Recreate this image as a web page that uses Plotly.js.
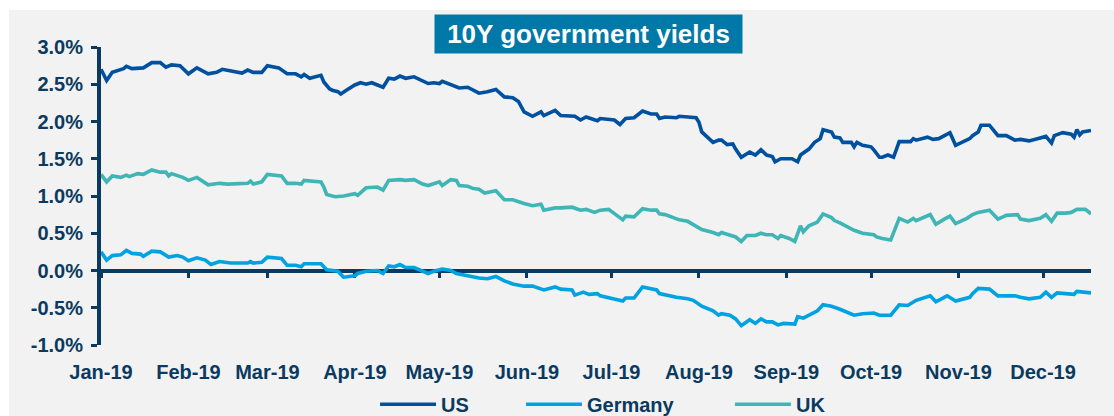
<!DOCTYPE html>
<html>
<head>
<meta charset="utf-8">
<script src="https://cdn.plot.ly/plotly-3.0.1.min.js"></script>
<style>
  html, body { margin: 0; padding: 0; background: #ffffff; width: 1114px; height: 416px; overflow: hidden; }
  #chart { position: absolute; left: 9px; top: 10px; width: 1105px; height: 406px; }
</style>
</head>
<body>
<div id="chart"></div>
<script>
// ---- Data ----
const seriesNames = ['US', 'Germany', 'UK'];
const monthTickFormat = '%b-%y';

const usDates = ['2019-01-01','2019-01-03','2019-01-05','2019-01-09','2019-01-10','2019-01-12','2019-01-16','2019-01-19','2019-01-22','2019-01-24','2019-01-26','2019-01-29',
'2019-02-01','2019-02-04','2019-02-08','2019-02-11','2019-02-13','2019-02-17','2019-02-20','2019-02-22','2019-02-24','2019-02-27',
'2019-03-01','2019-03-05','2019-03-08','2019-03-11','2019-03-13','2019-03-14','2019-03-16','2019-03-20','2019-03-21','2019-03-23','2019-03-24','2019-03-26','2019-03-27','2019-03-29',
'2019-04-01','2019-04-03','2019-04-05','2019-04-07','2019-04-09','2019-04-11','2019-04-13','2019-04-15','2019-04-17','2019-04-19','2019-04-22','2019-04-25','2019-04-27','2019-04-29',
'2019-05-01','2019-05-02','2019-05-05','2019-05-08','2019-05-11','2019-05-15','2019-05-18','2019-05-21','2019-05-24','2019-05-27','2019-05-29','2019-05-31',
'2019-06-03','2019-06-06','2019-06-07','2019-06-11','2019-06-13','2019-06-18','2019-06-20','2019-06-22','2019-06-26','2019-06-27',
'2019-07-02','2019-07-04','2019-07-06','2019-07-09','2019-07-12','2019-07-15','2019-07-17','2019-07-18','2019-07-20','2019-07-24','2019-07-25','2019-07-28','2019-07-31',
'2019-08-01','2019-08-02','2019-08-06','2019-08-08','2019-08-09','2019-08-11','2019-08-13','2019-08-14','2019-08-16','2019-08-19','2019-08-21','2019-08-23','2019-08-25','2019-08-27','2019-08-28','2019-08-30',
'2019-09-03','2019-09-05','2019-09-06','2019-09-09','2019-09-11','2019-09-13','2019-09-14','2019-09-17','2019-09-18','2019-09-20','2019-09-21','2019-09-24','2019-09-25','2019-09-26','2019-09-28',
'2019-10-01','2019-10-02','2019-10-04','2019-10-05','2019-10-07','2019-10-09','2019-10-11','2019-10-15','2019-10-16','2019-10-17','2019-10-21','2019-10-23','2019-10-25','2019-10-29','2019-10-31',
'2019-11-05','2019-11-06','2019-11-08','2019-11-09','2019-11-12','2019-11-15','2019-11-18','2019-11-21','2019-11-23','2019-11-26','2019-11-29',
'2019-12-02','2019-12-04','2019-12-05','2019-12-08','2019-12-11','2019-12-12','2019-12-13','2019-12-14','2019-12-15','2019-12-18'];
const usYields = [2.70,2.55,2.66,2.71,2.74,2.71,2.72,2.79,2.79,2.73,2.76,2.75,
2.64,2.72,2.64,2.66,2.70,2.67,2.65,2.69,2.66,2.66,
2.75,2.72,2.64,2.64,2.60,2.63,2.58,2.62,2.53,2.44,2.42,2.40,2.37,2.42,
2.49,2.52,2.50,2.52,2.49,2.46,2.58,2.57,2.61,2.58,2.60,2.55,2.51,2.52,
2.51,2.54,2.49,2.45,2.46,2.38,2.40,2.43,2.33,2.32,2.27,2.13,
2.07,2.13,2.08,2.15,2.08,2.07,2.02,2.06,2.01,2.04,
2.02,1.96,2.04,2.05,2.14,2.10,2.10,2.04,2.06,2.05,2.07,2.06,2.05,
1.99,1.86,1.72,1.75,1.75,1.69,1.70,1.63,1.52,1.59,1.55,1.62,1.55,1.53,1.46,1.50,
1.50,1.46,1.55,1.63,1.72,1.77,1.89,1.86,1.79,1.78,1.72,1.72,1.66,1.72,1.68,
1.66,1.62,1.52,1.52,1.55,1.52,1.73,1.73,1.77,1.75,1.79,1.76,1.77,1.85,1.68,
1.77,1.81,1.86,1.95,1.95,1.81,1.81,1.75,1.76,1.74,1.77,
1.80,1.71,1.81,1.85,1.83,1.79,1.89,1.82,1.86,1.88];

const deDates = ['2019-01-01','2019-01-03','2019-01-05','2019-01-08','2019-01-10','2019-01-12','2019-01-15','2019-01-16','2019-01-19','2019-01-22','2019-01-25','2019-01-28','2019-01-30',
'2019-02-01','2019-02-04','2019-02-07','2019-02-09','2019-02-12','2019-02-16','2019-02-19','2019-02-22','2019-02-23','2019-02-24','2019-02-27',
'2019-03-01','2019-03-06','2019-03-08','2019-03-11','2019-03-13','2019-03-14','2019-03-20','2019-03-22','2019-03-26','2019-03-28',
'2019-04-01','2019-04-02','2019-04-05','2019-04-09','2019-04-11','2019-04-13','2019-04-15','2019-04-17','2019-04-19','2019-04-22','2019-04-25','2019-04-27','2019-04-29',
'2019-05-02','2019-05-05','2019-05-07','2019-05-11','2019-05-15','2019-05-18','2019-05-21','2019-05-24','2019-05-27','2019-05-31',
'2019-06-03','2019-06-07','2019-06-11','2019-06-13','2019-06-17','2019-06-18','2019-06-21','2019-06-23','2019-06-26','2019-06-27',
'2019-07-02','2019-07-05','2019-07-06','2019-07-09','2019-07-12','2019-07-15','2019-07-17','2019-07-18','2019-07-24','2019-07-28','2019-07-30',
'2019-08-02','2019-08-06','2019-08-08','2019-08-09','2019-08-12','2019-08-14','2019-08-16','2019-08-19','2019-08-21','2019-08-23','2019-08-25','2019-08-27','2019-08-29','2019-08-31',
'2019-09-04','2019-09-05','2019-09-07','2019-09-11','2019-09-12','2019-09-14','2019-09-17','2019-09-20','2019-09-25','2019-09-28',
'2019-10-02','2019-10-04','2019-10-08','2019-10-11','2019-10-14','2019-10-17','2019-10-19','2019-10-22','2019-10-24','2019-10-28','2019-10-31',
'2019-11-05','2019-11-06','2019-11-08','2019-11-12','2019-11-15','2019-11-18','2019-11-21','2019-11-23','2019-11-26','2019-11-30',
'2019-12-02','2019-12-04','2019-12-06','2019-12-09','2019-12-12','2019-12-13','2019-12-15','2019-12-18'];
const deYields = [0.25,0.14,0.20,0.21,0.27,0.23,0.22,0.19,0.26,0.25,0.18,0.20,0.18,
0.13,0.17,0.14,0.08,0.12,0.10,0.10,0.10,0.12,0.10,0.11,
0.18,0.16,0.07,0.07,0.05,0.09,0.09,0.01,-0.01,-0.09,
-0.07,-0.04,-0.01,0.00,-0.04,0.06,0.05,0.08,0.04,0.04,-0.01,-0.04,-0.01,
0.02,0.00,-0.04,-0.07,-0.10,-0.11,-0.08,-0.14,-0.18,-0.21,
-0.21,-0.26,-0.22,-0.25,-0.26,-0.33,-0.29,-0.32,-0.31,-0.34,
-0.39,-0.41,-0.37,-0.37,-0.22,-0.25,-0.26,-0.31,-0.36,-0.38,-0.40,
-0.48,-0.54,-0.60,-0.58,-0.60,-0.65,-0.74,-0.66,-0.71,-0.65,-0.69,-0.69,-0.73,-0.71,
-0.72,-0.62,-0.64,-0.57,-0.54,-0.46,-0.48,-0.52,-0.60,-0.58,
-0.57,-0.60,-0.60,-0.46,-0.47,-0.40,-0.38,-0.34,-0.42,-0.34,-0.41,
-0.36,-0.31,-0.24,-0.25,-0.34,-0.34,-0.34,-0.36,-0.38,-0.36,
-0.29,-0.36,-0.30,-0.31,-0.32,-0.28,-0.29,-0.30];

const ukDates = ['2019-01-01','2019-01-03','2019-01-05','2019-01-08','2019-01-10','2019-01-11','2019-01-14','2019-01-16','2019-01-19','2019-01-22','2019-01-24','2019-01-25','2019-01-26','2019-01-30',
'2019-02-01','2019-02-04','2019-02-08','2019-02-12','2019-02-15','2019-02-19','2019-02-22','2019-02-23','2019-02-24','2019-02-27',
'2019-03-01','2019-03-06','2019-03-08','2019-03-11','2019-03-13','2019-03-14','2019-03-20','2019-03-21','2019-03-22','2019-03-25','2019-03-28',
'2019-04-01','2019-04-02','2019-04-05','2019-04-09','2019-04-11','2019-04-13','2019-04-17','2019-04-19','2019-04-22','2019-04-25','2019-04-27','2019-04-29',
'2019-05-01','2019-05-02','2019-05-05','2019-05-07','2019-05-08','2019-05-11','2019-05-13','2019-05-15','2019-05-17','2019-05-21','2019-05-24','2019-05-27','2019-05-29','2019-05-31',
'2019-06-03','2019-06-06','2019-06-07','2019-06-11','2019-06-13','2019-06-17','2019-06-20','2019-06-22','2019-06-25','2019-06-27','2019-06-30',
'2019-07-02','2019-07-05','2019-07-06','2019-07-09','2019-07-12','2019-07-15','2019-07-17','2019-07-18','2019-07-20','2019-07-24','2019-07-25','2019-07-28','2019-07-31',
'2019-08-02','2019-08-06','2019-08-08','2019-08-09','2019-08-12','2019-08-14','2019-08-16','2019-08-18','2019-08-21','2019-08-23','2019-08-25','2019-08-27','2019-08-29','2019-08-30',
'2019-09-02','2019-09-04','2019-09-06','2019-09-07','2019-09-09','2019-09-11','2019-09-12','2019-09-14','2019-09-17','2019-09-18','2019-09-20','2019-09-25','2019-09-28',
'2019-10-02','2019-10-03','2019-10-05','2019-10-08','2019-10-11','2019-10-14','2019-10-16','2019-10-17','2019-10-22','2019-10-24','2019-10-27','2019-10-29','2019-10-31',
'2019-11-04','2019-11-06','2019-11-08','2019-11-12','2019-11-15','2019-11-18','2019-11-22','2019-11-23','2019-11-26','2019-11-30',
'2019-12-02','2019-12-04','2019-12-06','2019-12-09','2019-12-11','2019-12-13','2019-12-16','2019-12-18'];
const ukYields = [1.29,1.19,1.27,1.25,1.28,1.26,1.30,1.29,1.35,1.32,1.32,1.27,1.30,1.25,
1.21,1.25,1.15,1.17,1.16,1.16,1.17,1.20,1.16,1.19,
1.29,1.27,1.17,1.17,1.16,1.21,1.19,1.12,1.02,0.99,1.00,
1.03,1.01,1.11,1.12,1.08,1.21,1.22,1.21,1.22,1.16,1.14,1.16,
1.19,1.14,1.22,1.21,1.14,1.13,1.10,1.09,1.04,1.07,0.95,0.95,0.92,0.90,
0.87,0.89,0.81,0.84,0.84,0.85,0.81,0.82,0.78,0.81,0.82,
0.76,0.68,0.73,0.72,0.83,0.81,0.81,0.76,0.75,0.70,0.68,0.66,0.60,
0.55,0.51,0.48,0.51,0.48,0.45,0.39,0.47,0.47,0.50,0.48,0.48,0.43,0.47,
0.43,0.39,0.60,0.52,0.60,0.64,0.65,0.76,0.71,0.67,0.64,0.54,0.50,
0.48,0.45,0.43,0.41,0.70,0.65,0.70,0.67,0.75,0.62,0.69,0.73,0.63,
0.70,0.75,0.78,0.81,0.69,0.74,0.75,0.69,0.67,0.70,
0.75,0.66,0.77,0.77,0.78,0.82,0.82,0.76];

const yTickVals = [-1.0,-0.5,0.0,0.5,1.0,1.5,2.0,2.5,3.0];
const yTickText = ['-1.0%','-0.5%','0.0%','0.5%','1.0%','1.5%','2.0%','2.5%','3.0%'];
const chartTitle = '10Y government yields';

// ---- Styles ----
const NAVY = '#0a3a5f';
const FONT = 'Liberation Sans, Arial, sans-serif';
const colors = ['#0050a0', '#00a2e1', '#3fb5b5'];
const xRange = ['2019-01-01', '2019-12-18'];
const legendFont = {family: FONT, size: 20, color: NAVY, weight: 'bold'};
const legendXs = [0.2768, 0.4242, 0.6353];   // paper x of each legend entry

const traces = [
  {x: usDates, y: usYields, name: seriesNames[0], xaxis: 'x', legend: 'legend'},
  {x: deDates, y: deYields, name: seriesNames[1], xaxis: 'x2', legend: 'legend2'},
  {x: ukDates, y: ukYields, name: seriesNames[2], xaxis: 'x', legend: 'legend3'}
].map((t, i) => Object.assign(t, {
  type: 'scatter', mode: 'lines',
  line: {color: colors[i], width: 3.6},
  hoverinfo: 'skip'
}));

function legendAt(x) {
  return {
    orientation: 'h', x: x, xanchor: 'left', y: -0.199, yanchor: 'middle',
    font: legendFont, itemwidth: 56, bgcolor: 'rgba(0,0,0,0)', borderwidth: 0
  };
}

const layout = {
  width: 1105, height: 406,
  margin: {l: 92, r: 23, t: 37, b: 71, autoexpand: false},
  paper_bgcolor: '#f2f2f2', plot_bgcolor: '#f2f2f2',
  font: {family: FONT, size: 20, color: NAVY, weight: 'bold'},
  showlegend: true,
  legend: legendAt(legendXs[0]),
  legend2: legendAt(legendXs[1]),
  legend3: legendAt(legendXs[2]),
  xaxis: {
    type: 'date', range: xRange,
    tick0: '2019-01-01', dtick: 'M1', tickformat: monthTickFormat,
    showgrid: false, zeroline: false, showline: false, ticks: '',
    ticklabelstandoff: 13, automargin: false,
    tickfont: {family: FONT, size: 20, color: NAVY, weight: 'bold'}
  },
  xaxis2: {
    type: 'date', range: xRange, overlaying: 'x', anchor: 'free', position: 0.25,
    side: 'bottom',
    tick0: '2019-01-01', dtick: 'M1',
    showgrid: false, zeroline: false, showline: true, linecolor: NAVY, linewidth: 4,
    ticks: 'outside', ticklen: 5, tickwidth: 3, tickcolor: NAVY,
    showticklabels: false, layer: 'below traces', automargin: false
  },
  yaxis: {
    range: [-1, 3], tickvals: yTickVals, ticktext: yTickText,
    showgrid: false, zeroline: false, automargin: false,
    showline: true, linecolor: NAVY, linewidth: 4,
    ticks: 'outside', ticklen: 6, tickwidth: 3, tickcolor: NAVY,
    ticklabelstandoff: 4,
    tickfont: {family: FONT, size: 20, color: NAVY, weight: 'bold'}
  },
  annotations: [{
    text: chartTitle, xref: 'paper', yref: 'paper',
    x: 0.4924, y: 1.0436, xanchor: 'center', yanchor: 'middle',
    showarrow: false, bgcolor: '#0078a8', borderpad: 0,
    width: 307, height: 38,
    font: {family: FONT, size: 26, color: '#ffffff', weight: 'bold'}
  }]
};

Plotly.newPlot('chart', traces, layout, {staticPlot: true, displayModeBar: false});
</script>
</body>
</html>
